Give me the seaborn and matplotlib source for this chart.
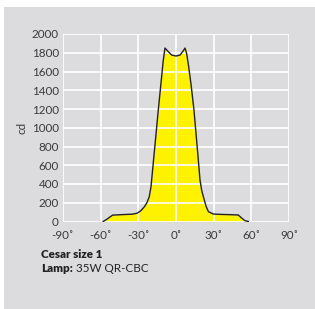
import matplotlib
matplotlib.use("Agg")
import matplotlib.pyplot as plt
import seaborn as sns
import pandas as pd
from matplotlib.patches import Rectangle

angles = [-58, -55, -50.5, -45, -40, -35, -31, -28, -25, -23, -21.3, -19.9, -19.4, -18, -16, -14.1,
          -12, -10.3, -8.8, -6, -3.4, 0, 3.2, 5.5, 7.2, 8.5, 10, 12, 14.3, 16, 17.5, 19.1,
          20.5, 21.8, 24, 25.8, 29.7, 35, 40, 45, 49.6, 52, 55, 57.6]
intensity = [0, 25, 68, 72, 75, 78, 88, 115, 160, 205, 265, 371, 443, 640, 920, 1190,
             1470, 1700, 1850, 1810, 1775, 1765, 1775, 1815, 1850, 1790, 1660, 1460, 1190, 930, 700, 443,
             330, 265, 160, 105, 80, 76, 74, 72, 69, 40, 8, 0]

x_ticks = [-90, -60, -30, 0, 30, 60, 90]
x_tick_labels = ["-90˚", "-60˚", "-30˚", "0˚", "30˚", "60˚", "90˚"]
y_ticks = [0, 200, 400, 600, 800, 1000, 1200, 1400, 1600, 1800, 2000]
y_label = "cd"
caption_bold = "Cesar size 1"
caption_lamp_bold = "Lamp:"
caption_lamp = " 35W QR-CBC"

df = pd.DataFrame({"angle": angles, "cd": intensity})

W, H = 315, 309
fig = plt.figure(figsize=(W / 100, H / 100), dpi=100, facecolor="white")
panel = "#dcdcdf"
fig.patches.append(Rectangle((4 / W, 0), 1 - 4 / W, (H - 7) / H, transform=fig.transFigure,
                             facecolor=panel, edgecolor="none", zorder=-10))

ax = fig.add_axes([63 / W, (H - 221.5) / H, (289 - 63) / W, (221.5 - 34) / H])
ax.set_zorder(5)
ax.set_facecolor(panel)
ax.fill_between(df["angle"], df["cd"], 0, color="#fff200", zorder=2, linewidth=0)
sns.lineplot(data=df, x="angle", y="cd", ax=ax, color="#222222", linewidth=1.0, zorder=3)

ax.set_xlim(-90, 90)
ax.set_ylim(0, 2000)
ax.set_xticks(x_ticks)
ax.set_xticklabels(x_tick_labels)
ax.set_yticks(y_ticks)
ax.grid(True, color="white", linewidth=1.2, zorder=2.5)
ax.set_axisbelow(False)
for s in ax.spines.values():
    s.set_visible(False)
fs = 8.4
ax.tick_params(length=0, labelsize=fs, labelcolor="#3a3a3a", pad=4)
ax.tick_params(axis="x", pad=6)
ax.tick_params(axis="y", pad=3)
for lbl in ax.get_xticklabels() + ax.get_yticklabels():
    lbl.set_family("Lato")
ax.set_xlabel("")
ax.set_ylabel(y_label, fontsize=fs, color="#3a3a3a", family="Lato", labelpad=3)

fig.text(41 / W, 1 - 254 / H, caption_bold, fontsize=fs, fontweight="heavy", color="#222222",
         family="Lato", va="center")
t = fig.text(41 / W, 1 - 268 / H, caption_lamp_bold, fontsize=fs, fontweight="heavy", color="#222222",
             family="Lato", va="center")
fig.canvas.draw()
bb = t.get_window_extent()
fig.text(bb.x1 / W, 1 - 268 / H, caption_lamp, fontsize=fs, color="#222222",
         family="Lato", va="center")

fig.savefig("out.png", dpi=100, facecolor="white")
